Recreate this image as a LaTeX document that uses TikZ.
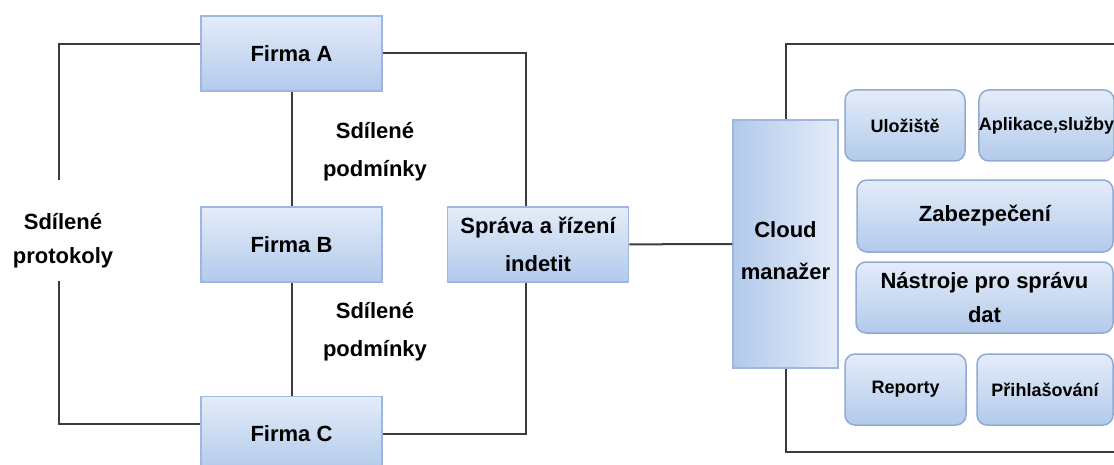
\documentclass[tikz,border=0pt]{standalone}
\usepackage{fontspec}
\setmainfont{Liberation Sans}
\usepackage{tikz}
\definecolor{boxtop}{HTML}{E4ECF9}
\definecolor{boxbot}{HTML}{B2CAEB}
\definecolor{boxline}{HTML}{9DB7E0}
\definecolor{modline}{HTML}{90AAD2}
\definecolor{lineclr}{HTML}{3C3C3C}
\newcommand{\bigtxt}[1][17]{\fontsize{11}{#1}\selectfont\bfseries}
\newcommand{\smalltxt}{\fontsize{9}{12}\selectfont\bfseries}
\tikzstyle{firma} = [rectangle, draw=boxline, line width=0.75pt, top color=boxtop, bottom color=boxbot, minimum width=90.5pt, minimum height=37.5pt, inner sep=0pt, text centered, align=center, font=\bigtxt]
\tikzstyle{modul} = [rectangle, rounded corners=5pt, draw=modline, line width=0.75pt, top color=boxtop, bottom color=boxbot, minimum height=35.5pt, inner sep=0pt, text centered, align=center, font=\smalltxt]
\tikzstyle{popis} = [text centered, align=center, font={\bigtxt[19]}]
\tikzstyle{spoj} = [line width=1pt, draw=lineclr]

\begin{document}
\begin{tikzpicture}[x=0.5pt, y=-0.5pt]
                \useasboundingbox (0,0) rectangle (1114,465);

                \node (firmaA) [firma] at (291.5,53.5) {Firma A};
                \node (firmaB) [firma] at (291.5,244.5) {Firma B};
                \node (firmaC) [firma] at (291.5,434) {Firma C};
                \node (sprava) [firma, font={\bigtxt[19]}] at (538,244.5) {Správa a řízení\\indetit};
                \node (cloud) [firma, minimum width=52.5pt, minimum height=124pt, left color=boxbot, right color=boxtop,
                    label={[popis, font={\bigtxt[21]}, yshift=-3.5pt]center:Cloud\\manažer}] at (785.5,244) {};

                \node (podm1) [popis] at (375,152) {Sdílené\\podmínky};
                \node (podm2) [popis] at (375,332) {Sdílené\\podmínky};
                \node (proto) [popis, font=\bigtxt] at (63,241) {Sdílené\\protokoly};

                \node (uloziste) [modul, minimum width=60pt] at (905,125.5) {Uložiště};
                \node (aplikace) [modul, minimum width=66.5pt] at (1046.5,125.5) {Aplikace,služby};
                \node (zabezp) [modul, minimum width=128pt, minimum height=36pt, font=\bigtxt] at (985,216) {Zabezpečení};
                \node (nastroje) [modul, minimum width=128.5pt, font=\bigtxt] at (984.5,297.5) {Nástroje pro správu\\dat};
                \node (reporty) [modul, minimum width=60.5pt] at (905.5,389.5) {Reporty};
                \node (prihlas) [modul, minimum width=68pt] at (1045,389.5) {Přihlašování};

                \coordinate (protoTop) at (59,180);
                \coordinate (protoBot) at (59,281);
                \coordinate (frameTop) at (1120,44);
                \coordinate (frameBot) at (1120,452);

                \draw [spoj] ([yshift=4.75pt]firmaA.west) -| (protoTop);
                \draw [spoj] (protoBot) |- ([yshift=5pt]firmaC.west);
                \draw [spoj] (firmaA) -- (firmaB);
                \draw [spoj] (firmaB) -- (firmaC);
                \draw [spoj] (firmaA.east) -| ([xshift=-6pt]sprava.north);
                \draw [spoj] ([xshift=-6pt]sprava.south) |- (firmaC.east);
                \draw [spoj] (sprava) -- (cloud);
                \draw [spoj] (cloud.north) |- (frameTop);
                \draw [spoj] (cloud.south) |- (frameBot);
            \end{tikzpicture}
\end{document}
